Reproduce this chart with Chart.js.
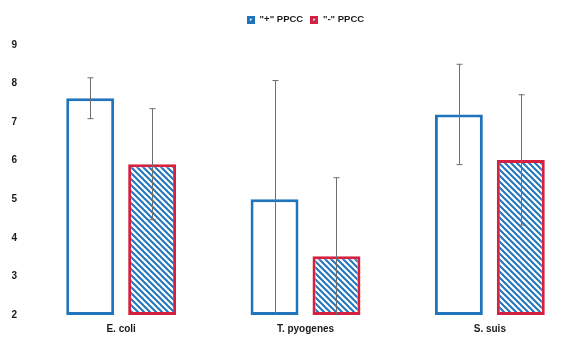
<!DOCTYPE html>
<html>
<head>
<meta charset="utf-8">
<script src="https://cdn.jsdelivr.net/npm/chart.js@4.4.1/dist/chart.umd.min.js"></script>
<style>
  html, body { margin: 0; padding: 0; background: #fff; overflow: hidden; }
  #wrap { width: 600px; height: 347px; }
</style>
</head>
<body>
<div id="wrap"><canvas id="chart"></canvas></div>
<script>
const categories = ['E. coli', 'T. pyogenes', 'S. suis'];
const seriesNames = ['"+" PPCC', '"-" PPCC'];
const plusValues = [7.62, 5.0, 7.2];
const minusValues = [5.91, 3.52, 6.02];
const plusErr = [0.53, 3.08, 1.3];
const minusErr = [1.44, 2.04, 1.69];
const yTicks = [2, 3, 4, 5, 6, 7, 8, 9];

const BLUE = '#1f74bb';
const RED = '#d6203f';

// diagonal hatch for the "-" bars
function hatch() {
    const c = document.createElement('canvas');
    c.width = 6; c.height = 6;
    const g = c.getContext('2d');
    g.fillStyle = '#fff';
    g.fillRect(0, 0, 6, 6);
    g.strokeStyle = BLUE;
    g.lineWidth = 2;
    for (let k = -1; k <= 1; k++) {
        g.beginPath();
        g.moveTo(k * 6 - 1, -1);
        g.lineTo(k * 6 + 7, 7);
        g.stroke();
    }
    return g.createPattern(c, 'repeat');
}

// little legend markers
function marker(fill, dot) {
    const c = document.createElement('canvas');
    c.width = 8; c.height = 8;
    const g = c.getContext('2d');
    g.fillStyle = fill;
    g.fillRect(0, 0, 8, 8);
    g.fillStyle = '#fff';
    g.fillRect(3, 3, 2, 2);
    g.fillStyle = dot;
    g.fillRect(4, 4, 1, 1);
    return c;
}

const errorBars = {
    id: 'errorBars',
    afterDatasetsDraw(chart) {
        const ctx = chart.ctx;
        const y = chart.scales.y;
        const area = chart.chartArea;
        const errs = [plusErr, minusErr];
        ctx.save();
        ctx.beginPath();
        ctx.rect(area.left, area.top - 20, area.right - area.left, area.bottom - area.top + 20);
        ctx.clip();
        ctx.strokeStyle = '#6e6e6e';
        ctx.lineWidth = 1;
        chart.data.datasets.forEach((ds, i) => {
            chart.getDatasetMeta(i).data.forEach((bar, j) => {
                const v = ds.data[j];
                const x = Math.round(bar.x) + 0.5;
                const top = y.getPixelForValue(v + errs[i][j]);
                const bot = y.getPixelForValue(v - errs[i][j]);
                ctx.beginPath();
                ctx.moveTo(x, top);
                ctx.lineTo(x, bot);
                ctx.moveTo(x - 3, top);
                ctx.lineTo(x + 3, top);
                ctx.moveTo(x - 3, bot);
                ctx.lineTo(x + 3, bot);
                ctx.stroke();
            });
        });
        ctx.restore();
    }
};

const legendHeight = {
    id: 'legendHeight',
    beforeInit(chart) {
        const fit = chart.legend.fit;
        chart.legend.fit = function () {
            fit.bind(chart.legend)();
            this.height = 37;
        };
    }
};

const font = { family: '"Liberation Sans", Arial, sans-serif', size: 10, weight: 'bold' };

new Chart(document.getElementById('chart'), {
    type: 'bar',
    data: {
        labels: categories,
        datasets: [{
            label: seriesNames[0],
            data: plusValues,
            backgroundColor: '#fff',
            borderColor: BLUE,
            borderWidth: 3,
            borderSkipped: false,
            pointStyle: marker(BLUE, BLUE)
        }, {
            label: seriesNames[1],
            data: minusValues,
            backgroundColor: hatch(),
            borderColor: RED,
            borderWidth: 3,
            borderSkipped: false,
            pointStyle: marker(RED, BLUE)
        }]
    },
    options: {
        responsive: true,
        maintainAspectRatio: false,
        animation: false,
        layout: { padding: { left: 0, right: 18, top: 8, bottom: 0 } },
        datasets: { bar: { categoryPercentage: 0.672, barPercentage: 0.774, base: 2 } },
        plugins: {
            legend: {
                position: 'top',
                fullSize: false,
                labels: {
                    usePointStyle: true,
                    boxWidth: 8,
                    boxHeight: 8,
                    padding: 7,
                    color: '#1a1a1a',
                    font: { family: font.family, size: 9.5, weight: 'bold' }
                }
            },
            tooltip: { enabled: false }
        },
        scales: {
            x: {
                grid: { display: false, drawTicks: false },
                border: { display: false },
                ticks: { color: '#1a1a1a', font: font, padding: 8 },
                afterFit(s) { s.height = 32; }
            },
            y: {
                min: 2,
                max: 9,
                afterBuildTicks(s) { s.ticks = yTicks.map(v => ({ value: v })); },
                grid: { display: false, drawTicks: false },
                border: { display: false },
                ticks: { color: '#1a1a1a', font: font, padding: 12 },
                afterFit(s) { s.width = 29; }
            }
        }
    },
    plugins: [errorBars, legendHeight]
});
</script>
</body>
</html>
